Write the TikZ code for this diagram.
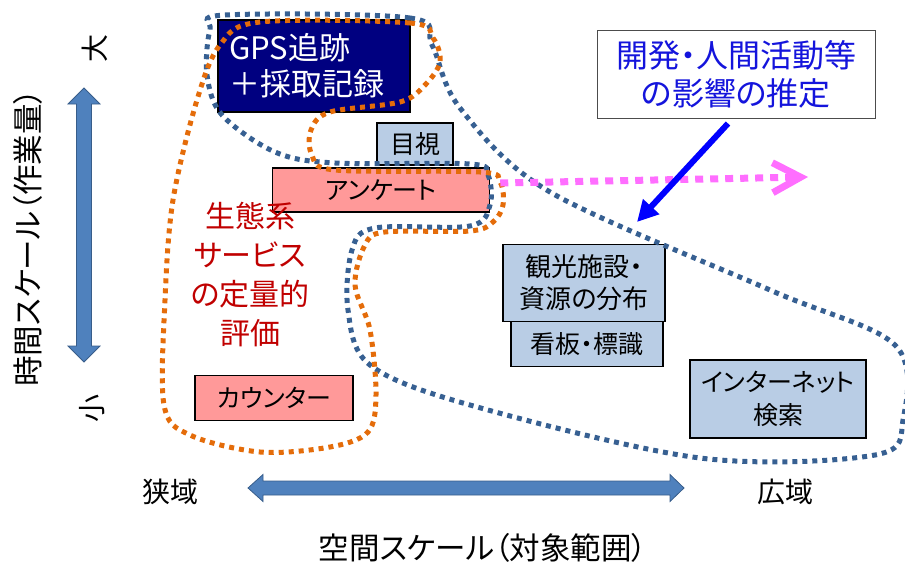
\documentclass[tikz,border=0pt]{standalone}
\usepackage{fontspec}
\setmainfont{Noto Sans CJK JP}[RawFeature=+palt]
\usetikzlibrary{arrows.meta}
\definecolor{navybox}{RGB}{0,0,128}
\definecolor{lblue}{RGB}{185,205,229}
\definecolor{pinkbox}{RGB}{255,153,153}
\definecolor{dotorange}{RGB}{228,108,10}
\definecolor{dotblue}{RGB}{55,96,146}
\definecolor{axisblue}{RGB}{79,129,189}
\definecolor{axisedge}{RGB}{56,93,138}
\definecolor{redtext}{RGB}{192,0,0}
\definecolor{bluetext}{RGB}{20,20,220}
\definecolor{magentadot}{RGB}{255,110,255}
\begin{document}
\begin{tikzpicture}[x=1pt,y=-1pt,
  box/.style={draw=black, line width=1.5pt, inner sep=0pt, align=center},
  lbbox/.style={box, fill=lblue},
  pkbox/.style={box, fill=pinkbox},
  fa/.style={font=\fontsize{25}{30}\selectfont},
  fb/.style={font=\fontsize{28}{33}\selectfont},
  fd/.style={font=\fontsize{30.5}{36}\selectfont},
  dotline/.style={line width=5pt, dash pattern=on 5pt off 5pt},
  blockarrow/.style={fill=axisblue, draw=axisedge, line width=0.8pt}
]
\useasboundingbox (0,0) rectangle (905,565);

% axes
\fill[blockarrow] (84,88) -- (100,104) -- (91.5,104) -- (91.5,346) -- (100,346) -- (84,362) -- (68,346) -- (76.5,346) -- (76.5,104) -- (68,104) -- cycle;
\fill[blockarrow] (248,488) -- (263,474.5) -- (263,481) -- (670,481) -- (670,474.5) -- (684,488) -- (670,501.5) -- (670,495) -- (263,495) -- (263,501.5) -- cycle;

\node[fd, rotate=90] (ylab) at (28,238) {時間スケール（作業量）};
\node[fb, rotate=90] (big) at (95,48) {大};
\node[fb, rotate=90] (small) at (92,408) {小};
\node[fb] (narrow) at (170,492) {狭域};
\node[fb] (wide) at (785,492) {広域};
\node[fd] (xlab) at (483,548) {空間スケール（対象範囲）};

% boxes
\node[box, fill=navybox, text=white, align=left, text width=170pt, inner xsep=11pt, minimum height=92pt, font=\fontsize{31}{36}\selectfont] (gps) at (314,66) {GPS追跡\\＋採取記録};
\node[lbbox, fa, minimum width=76pt, minimum height=42pt] (mokushi) at (415,144) {目視};
\node[pkbox, fa, minimum width=217pt, minimum height=44pt] (anketo) at (381,190) {アンケート};
\node[pkbox, fa, minimum width=158pt, minimum height=45pt] (counter) at (274,398) {カウンター};
\node[lbbox, fa, minimum width=152pt, minimum height=45pt] (kanban) at (587,344) {看板・標識};
\node[lbbox, minimum width=162pt, minimum height=77pt, font=\fontsize{26}{32}\selectfont] (kanko) at (584,283) {観光施設・\\資源の分布};
\node[lbbox, minimum width=176pt, minimum height=78pt, font=\fontsize{25}{33}\selectfont] (inet) at (778,399) {インターネット\\検索};
\node[box, draw=black!70, line width=1pt, fill=white, text=bluetext, minimum width=278pt, minimum height=88pt, font=\fontsize{32}{38}\selectfont] (kaihatsu) at (736,74) {開発・人間活動等\\の影響の推定};

\node[text=redtext, align=center, font=\fontsize{30}{39}\selectfont] (eco) at (250,275) {生態系\\サービス\\の定量的\\評価};

% dotted outlines
\draw[dotline, dotblue] plot[smooth cycle, tension=0.55] coordinates {
 (225,15) (410,18) (432,45) (460,108) (550,192) (770,290) (895,345) (903,420) (875,455) (700,458) (470,405) (370,365) (348,310) (352,250) (375,228) (470,226) (490,205) (488,175) (470,164) (335,163) (275,152) (222,115) (207,75) (210,30)};
\draw[dotline, dotorange] plot[smooth cycle, tension=0.55] coordinates {
 (260,22) (410,23) (433,38) (440,62) (425,85) (400,102) (330,112) (311,130) (312,155) (335,170) (480,172) (500,182) (503,205) (493,222) (470,231) (385,232) (365,245) (355,285) (370,330) (376,395) (368,432) (330,447) (260,452) (190,435) (164,405) (165,300) (173,200) (197,100) (220,45)};

% arrows
\coordinate (pinkend) at (808,177);
\draw[magentadot, line width=7pt, dash pattern=on 8pt off 7pt, -{Straight Barb[length=28pt, width=30pt]}] ([shift={(10,-7)}]anketo.east) -- (pinkend);
\coordinate (impact) at (637,222);
\draw[blue, line width=6pt, -{Triangle[length=21pt, width=21pt]}] ([shift={(-8,5)}]kaihatsu.south) -- (impact);
\end{tikzpicture}
\end{document}
